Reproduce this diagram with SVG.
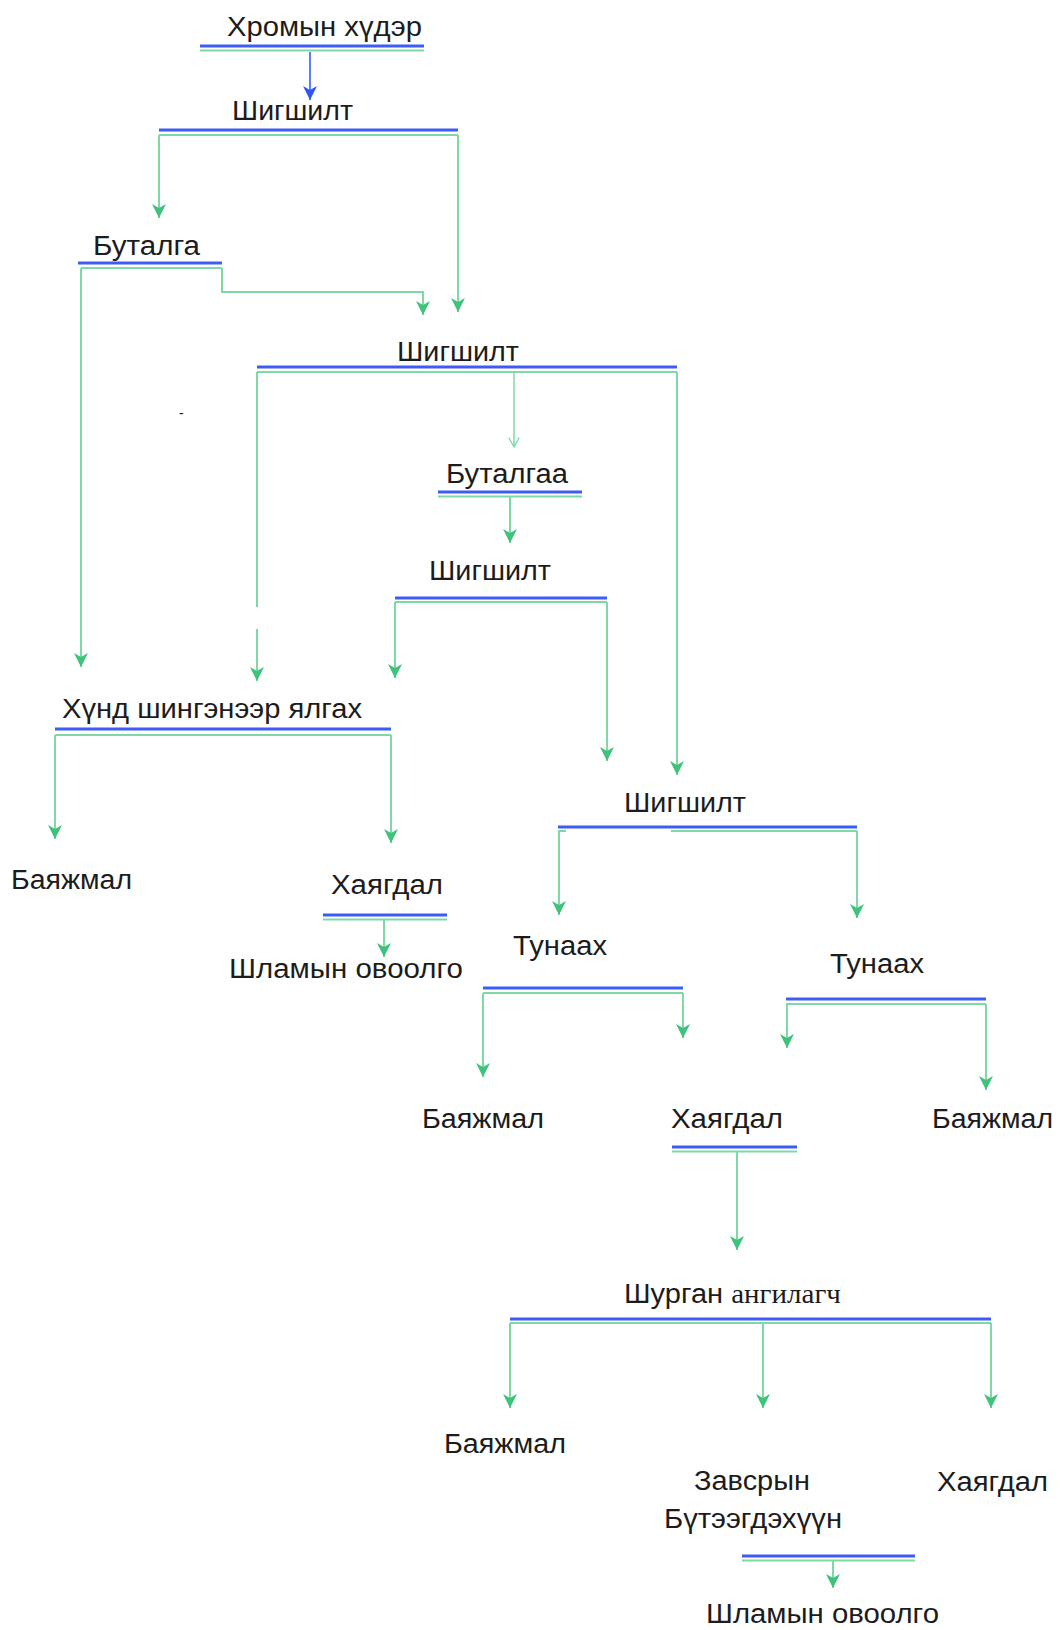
<svg xmlns="http://www.w3.org/2000/svg" width="1060" height="1630" viewBox="0 0 1060 1630">
<style>
text{font-family:"Liberation Sans",Arial,sans-serif;font-size:27px;fill:#1c1c1c}
.serif{font-family:"Liberation Serif","Times New Roman",serif}
.ub{stroke:#3d5cf7;stroke-width:3;fill:none}
.g{stroke:#7fd9a6;stroke-width:2;fill:none}
.ga{stroke:#7fd9a6;stroke-width:2;fill:none;marker-end:url(#ag)}
.gb{stroke:#5b7cfb;stroke-width:2;fill:none;marker-end:url(#ab)}
.go{stroke:#7fd9a6;stroke-width:1.5;fill:none;marker-end:url(#ao)}
</style>
<defs>
<marker id="ag" viewBox="0 0 14 14" refX="14" refY="7" markerWidth="14" markerHeight="14" markerUnits="userSpaceOnUse" orient="auto"><path d="M0,0 L14,7 L0,14 L4,7 z" fill="#3fc27b"/></marker>
<marker id="ab" viewBox="0 0 14 14" refX="14" refY="7" markerWidth="14" markerHeight="14" markerUnits="userSpaceOnUse" orient="auto"><path d="M0,0 L14,7 L0,14 L4,7 z" fill="#2f55f5"/></marker>
<marker id="ao" viewBox="0 0 14 14" refX="13" refY="7" markerWidth="12" markerHeight="12" markerUnits="userSpaceOnUse" orient="auto"><path d="M2,1 L13,7 L2,13" fill="none" stroke="#7fd9a6" stroke-width="1.5"/></marker>
</defs>

<g id="n-hromyn-huder"><text x="227" y="36" textLength="195" lengthAdjust="spacingAndGlyphs">Хромын хүдэр</text><line class="ub" x1="200" y1="46" x2="424" y2="46"/><line class="g" x1="200" y1="50.5" x2="424" y2="50.5"/></g>
<g id="n-shigshilt1"><text x="232" y="120" textLength="121" lengthAdjust="spacingAndGlyphs">Шигшилт</text><line class="ub" x1="159" y1="130" x2="458" y2="130"/></g>
<g id="n-butalga"><text x="93" y="255" textLength="107" lengthAdjust="spacingAndGlyphs">Буталга</text><line class="ub" x1="78" y1="263" x2="222" y2="263"/></g>
<g id="n-shigshilt2"><text x="397" y="361" textLength="122" lengthAdjust="spacingAndGlyphs">Шигшилт</text><line class="ub" x1="257" y1="367" x2="677" y2="367"/></g>
<g id="n-dash"><text x="179" y="418" style="font-size:14px">-</text></g>
<g id="n-butalgaa"><text x="446" y="483" textLength="122" lengthAdjust="spacingAndGlyphs">Буталгаа</text><line class="ub" x1="438" y1="492" x2="582" y2="492"/><line class="g" x1="438" y1="496.5" x2="582" y2="496.5"/></g>
<g id="n-shigshilt3"><text x="429" y="580" textLength="122" lengthAdjust="spacingAndGlyphs">Шигшилт</text><line class="ub" x1="395" y1="598" x2="607" y2="598"/></g>
<g id="n-hund"><text x="62" y="718" textLength="300" lengthAdjust="spacingAndGlyphs">Хүнд шингэнээр ялгах</text><line class="ub" x1="55" y1="729" x2="391" y2="729"/></g>
<g id="n-bayajmal1"><text x="11" y="889" textLength="121" lengthAdjust="spacingAndGlyphs">Баяжмал</text></g>
<g id="n-hayagdal1"><text x="331" y="894" textLength="112" lengthAdjust="spacingAndGlyphs">Хаягдал</text><line class="ub" x1="323" y1="915" x2="447" y2="915"/><line class="g" x1="323" y1="919.5" x2="447" y2="919.5"/></g>
<g id="n-shlam1"><text x="229" y="978" textLength="234" lengthAdjust="spacingAndGlyphs">Шламын овоолго</text></g>
<g id="n-shigshilt4"><text x="624" y="812" textLength="122" lengthAdjust="spacingAndGlyphs">Шигшилт</text><line class="ub" x1="558" y1="827" x2="857" y2="827"/></g>
<g id="n-tunaah1"><text x="513" y="955" textLength="94" lengthAdjust="spacingAndGlyphs">Тунаах</text><line class="ub" x1="483" y1="988" x2="683" y2="988"/></g>
<g id="n-tunaah2"><text x="830" y="973" textLength="94" lengthAdjust="spacingAndGlyphs">Тунаах</text><line class="ub" x1="786" y1="999" x2="986" y2="999"/></g>
<g id="n-bayajmal2"><text x="422" y="1128" textLength="122" lengthAdjust="spacingAndGlyphs">Баяжмал</text></g>
<g id="n-hayagdal2"><text x="671" y="1128" textLength="112" lengthAdjust="spacingAndGlyphs">Хаягдал</text><line class="ub" x1="672" y1="1147" x2="797" y2="1147"/><line class="g" x1="672" y1="1151.5" x2="797" y2="1151.5"/></g>
<g id="n-bayajmal3"><text x="932" y="1128" textLength="121" lengthAdjust="spacingAndGlyphs">Баяжмал</text></g>
<g id="n-shurgan"><text x="624" y="1303" textLength="217" lengthAdjust="spacingAndGlyphs">Шурган <tspan class="serif">ангилагч</tspan></text><line class="ub" x1="510" y1="1319" x2="991" y2="1319"/></g>
<g id="n-bayajmal4"><text x="444" y="1453" textLength="122" lengthAdjust="spacingAndGlyphs">Баяжмал</text></g>
<g id="n-zavsryn"><text x="694" y="1490" textLength="116" lengthAdjust="spacingAndGlyphs">Завсрын</text><text x="664" y="1528" textLength="178" lengthAdjust="spacingAndGlyphs">Бүтээгдэхүүн</text><line class="ub" x1="742" y1="1556" x2="915" y2="1556"/><line class="g" x1="742" y1="1560.5" x2="915" y2="1560.5"/></g>
<g id="n-hayagdal3"><text x="937" y="1491" textLength="111" lengthAdjust="spacingAndGlyphs">Хаягдал</text></g>
<g id="n-shlam2"><text x="706" y="1623" textLength="233" lengthAdjust="spacingAndGlyphs">Шламын овоолго</text></g>

<g id="connectors">
<path class="gb" d="M310,52 V100"/>
<path class="g" d="M159,135 H458"/>
<path class="ga" d="M159,135 V218"/>
<path class="ga" d="M458,135 V312"/>
<path class="g" d="M81,268 H222"/>
<path class="ga" d="M81,268 V667"/>
<path class="ga" d="M222,268 V292 H423 V315"/>
<path class="g" d="M257,372 H677"/>
<path class="g" d="M257,372 V607"/>
<path class="ga" d="M257,629 V681"/>
<path class="go" d="M514,372 V447"/>
<path class="ga" d="M677,372 V775"/>
<path class="ga" d="M510,497 V543"/>
<path class="g" d="M395,602 H607"/>
<path class="ga" d="M395,602 V678"/>
<path class="ga" d="M607,602 V761"/>
<path class="g" d="M55,735 H391"/>
<path class="ga" d="M55,735 V839"/>
<path class="ga" d="M391,735 V843"/>
<path class="ga" d="M384,920 V957"/>
<path class="g" d="M558,831 H566 M671,831 H857"/>
<path class="ga" d="M559,831 V915"/>
<path class="ga" d="M857,831 V918"/>
<path class="g" d="M483,993 H683"/>
<path class="ga" d="M483,993 V1077"/>
<path class="ga" d="M683,993 V1038"/>
<path class="g" d="M786,1004 H986"/>
<path class="ga" d="M787,1004 V1048"/>
<path class="ga" d="M986,1004 V1090"/>
<path class="ga" d="M737,1152 V1250"/>
<path class="g" d="M510,1323 H991"/>
<path class="ga" d="M510,1323 V1408"/>
<path class="ga" d="M763,1323 V1408"/>
<path class="ga" d="M991,1323 V1408"/>
<path class="ga" d="M833,1561 V1588"/>
</g>
</svg>
